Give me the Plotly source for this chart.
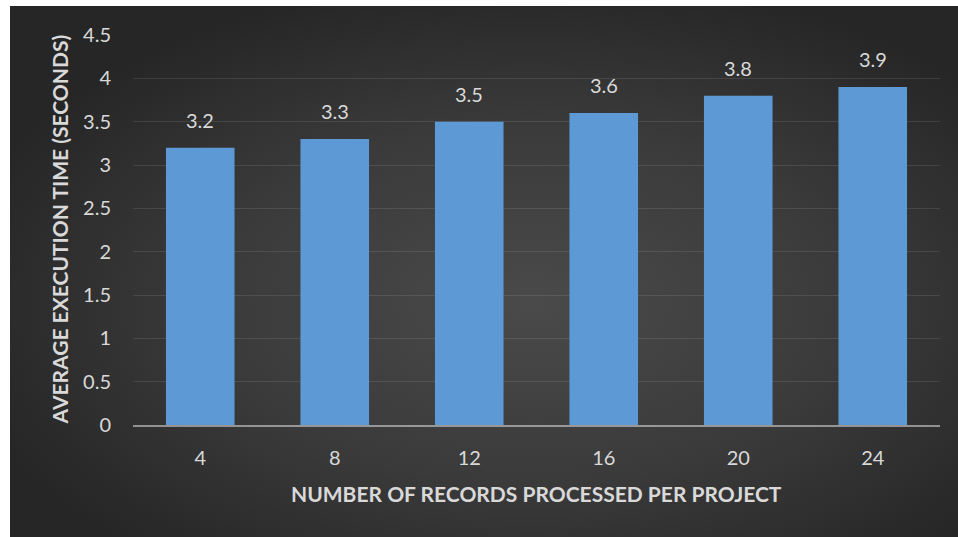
import base64
import plotly.graph_objects as go

# Records processed per project vs. average execution time
records = ["4", "8", "12", "16", "20", "24"]
exec_time = [3.2, 3.3, 3.5, 3.6, 3.8, 3.9]

W, H = 958, 537
ML, MR, MT, MB = 133, 18, 35, 112
PW, PH = W - ML - MR, H - MT - MB

TXT = "#d9d9d9"
FONT = "Lato, 'Open Sans', sans-serif"

# Dark radial-gradient chart background as an inline SVG image
bg_svg = (
    '<svg xmlns="http://www.w3.org/2000/svg" width="948" height="531" '
    'viewBox="0 0 948 531" preserveAspectRatio="none">'
    '<defs><radialGradient id="g" cx="0.55" cy="0.56" r="0.62">'
    '<stop offset="0" stop-color="#4a4a4a"/>'
    '<stop offset="0.55" stop-color="#3a3a3a"/>'
    '<stop offset="1" stop-color="#262626"/>'
    '</radialGradient></defs>'
    '<rect width="948" height="531" fill="url(#g)"/></svg>'
)
bg_src = "data:image/svg+xml;base64," + base64.b64encode(bg_svg.encode()).decode()


def px_x(px):
    return (px - ML) / PW


def px_y(py):
    return (H - MB - py) / PH


fig = go.Figure()
fig.add_trace(go.Bar(
    x=records,
    y=exec_time,
    marker=dict(color="#5d9ad5", line=dict(width=0)),
    hoverinfo="x+y",
))

annotations = []
for i, val in enumerate(exec_time):
    # category axes place annotations by category index
    annotations.append(dict(
        x=i, y=val, xref="x", yref="y",
        text=f"{val:g}", showarrow=False,
        yanchor="middle", yshift=28,
        font=dict(family=FONT, size=20, color=TXT),
    ))

annotations.append(dict(
    x=0.5, y=px_y(493), xref="paper", yref="paper",
    text="NUMBER OF RECORDS PROCESSED PER PROJECT", showarrow=False,
    xanchor="center", yanchor="middle",
    font=dict(family=FONT, size=21, color=TXT, weight="bold"),
))
annotations.append(dict(
    x=px_x(58.5), y=0.5, xref="paper", yref="paper",
    text="AVERAGE EXECUTION TIME (SECONDS)", showarrow=False,
    textangle=-90, xanchor="center", yanchor="middle",
    font=dict(family=FONT, size=21, color=TXT, weight="bold"),
))

fig.update_layout(
    width=W, height=H,
    margin=dict(l=ML, r=MR, t=MT, b=MB, pad=0),
    paper_bgcolor="white",
    plot_bgcolor="rgba(0,0,0,0)",
    bargap=0.49,
    showlegend=False,
    annotations=annotations,
    images=[dict(
        source=bg_src, xref="paper", yref="paper",
        x=px_x(10), y=px_y(6),
        sizex=(W - 10) / PW, sizey=(H - 6) / PH,
        xanchor="left", yanchor="top",
        sizing="stretch", layer="below",
    )],
    xaxis=dict(
        type="category", range=[-0.5, len(records) - 0.5],
        showgrid=False, zeroline=False,
        showline=True, linecolor="rgba(225,225,225,0.55)", linewidth=2,
        ticks="", ticklabelstandoff=14,
        tickfont=dict(family=FONT, size=20, color=TXT),
    ),
    yaxis=dict(
        range=[0, 4.5], dtick=0.5, tick0=0,
        showgrid=True, gridcolor="rgba(255,255,255,0.10)", gridwidth=1.3,
        zeroline=False, showline=False,
        ticks="", ticklabelstandoff=21,
        tickfont=dict(family=FONT, size=20, color=TXT),
    ),
)

fig.write_html("out.html")
